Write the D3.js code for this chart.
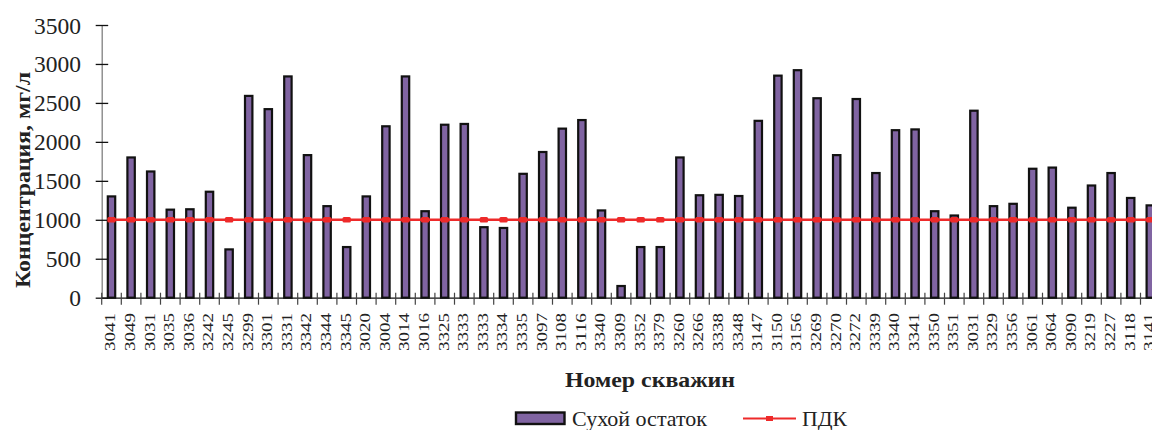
<!DOCTYPE html>
<html><head><meta charset="utf-8">
<script src="https://cdn.jsdelivr.net/npm/d3@7/dist/d3.min.js"></script>
<style>html,body{margin:0;padding:0;background:#fff;overflow:hidden}</style>
</head><body><svg id="c" width="1152" height="430"></svg>
<script>
const wells = ["3041","3049","3031","3035","3036","3242","3245","3299","3301","3331","3342","3344","3345","3020","3004",
"3014","3016","3325","3333","3333","3334","3335","3097","3108","3116","3340","3309","3352","3379","3260","3266","3338","3348","3147","3150",
"3156","3269","3270","3272","3339","3340","3341","3350","3351","3031","3329","3356","3061","3064","3090","3219","3227","3118","3141"];
const dryResidue = [1300,1800,1620,1130,1135,1360,620,2590,2420,2840,1830,1175,650,1300,2200,
2840,1110,2220,2230,905,895,1590,1870,2170,2280,1120,150,650,650,1800,1315,1320,1305,2270,2850,
2920,2560,1830,2550,1600,2150,2160,1110,1055,2400,1175,1205,1655,1670,1155,1440,1600,1280,1185];
const pdk = wells.map(() => 1000);
const yTicks = [0,500,1000,1500,2000,2500,3000,3500];
const seriesNames = ["Сухой остаток","ПДК"];
const yTitle = "Концентрация, мг/л";
const xTitle = "Номер скважин";

const svg = d3.select("#c");
const serif = "'Liberation Serif','Times New Roman',serif";
const x0 = 101.7, step = 19.6;
const x = d3.scaleBand().domain(d3.range(wells.length)).range([x0, x0 + step*wells.length]).paddingInner(0).paddingOuter(0);
const y = d3.scaleLinear().domain([0,3500]).range([297.7, 25]);
const purple = "#8064A2", red = "#EE2A2A";

// y axis
const yAx = svg.append("g").attr("transform",`translate(${x0},0)`)
  .call(d3.axisLeft(y).tickValues(yTicks).tickFormat(d3.format("d")).tickSize(0).tickPadding(20.7));
yAx.select(".domain").attr("stroke","#808080").attr("stroke-width",1.3);
yAx.selectAll("text").attr("font-family",serif).attr("font-size","23.5px").attr("fill","#222").attr("dy","0.34em");
yAx.selectAll(".tick").append("line").attr("x1",-6).attr("x2",6.5).attr("stroke","#111").attr("stroke-width",1.3);

// bars
const bw = 7.4;
svg.append("g").selectAll("rect").data(dryResidue).join("rect")
  .attr("x",(d,i)=>x(i)+x.bandwidth()/2-bw/2)
  .attr("y",d=>y(d))
  .attr("width",bw)
  .attr("height",d=>y(0)-y(d))
  .attr("fill",purple).attr("stroke","#111").attr("stroke-width",2.2);

// x axis
const xAx = svg.append("g").attr("transform",`translate(0,${y(0)})`)
  .call(d3.axisBottom(x).tickFormat(i=>wells[i]).tickSize(0).tickSizeOuter(0));
xAx.select(".domain").attr("stroke","#111").attr("stroke-width",1.3);
xAx.selectAll(".tick text").remove();
xAx.selectAll(".tick line").remove();
const bounds = d3.range(wells.length+1).map(i=>x0+i*step);
xAx.append("g").selectAll("line").data(bounds).join("line")
  .attr("x1",d=>d).attr("x2",d=>d).attr("y1",-5).attr("y2",7)
  .attr("stroke","#444").attr("stroke-width",1.2);
svg.append("g").selectAll("text").data(wells).join("text")
  .attr("transform",(d,i)=>`translate(${x(i)+x.bandwidth()/2+3.8},313) rotate(-90)`)
  .attr("text-anchor","end")
  .attr("font-family",serif).attr("font-size","15.5px").attr("fill","#222")
  .attr("textLength",38).attr("lengthAdjust","spacingAndGlyphs")
  .text(d=>d);

// PDK line
const line = d3.line().x((d,i)=>x(i)+x.bandwidth()/2).y(d=>y(d));
svg.append("path").datum(pdk).attr("d",line).attr("fill","none").attr("stroke",red).attr("stroke-width",2.4);
svg.append("g").selectAll("rect").data(pdk).join("rect")
  .attr("x",(d,i)=>x(i)+x.bandwidth()/2-4.2).attr("y",d=>y(d)-2.8)
  .attr("width",8.4).attr("height",5.6).attr("rx",1.5).attr("fill",red);

// titles
svg.append("text").attr("transform","translate(29.5,180) rotate(-90)")
  .attr("text-anchor","middle").attr("font-family",serif).attr("font-weight","bold")
  .attr("font-size","22px").attr("fill","#222")
  .attr("textLength",216).attr("lengthAdjust","spacingAndGlyphs").text(yTitle);
svg.append("text").attr("x",650).attr("y",387)
  .attr("text-anchor","middle").attr("font-family",serif).attr("font-weight","bold")
  .attr("font-size","22px").attr("fill","#222")
  .attr("textLength",170).attr("lengthAdjust","spacingAndGlyphs").text(xTitle);

// legend
const lg = svg.append("g");
lg.append("rect").attr("x",516).attr("y",412.5).attr("width",48.5).attr("height",11.5)
  .attr("fill",purple).attr("stroke","#111").attr("stroke-width",2.4);
lg.append("text").attr("x",572).attr("y",425.5).attr("font-family",serif).attr("font-size","21px").attr("fill","#222")
  .attr("textLength",135).attr("lengthAdjust","spacingAndGlyphs").text(seriesNames[0]);
lg.append("line").attr("x1",743).attr("x2",796).attr("y1",418.5).attr("y2",418.5).attr("stroke",red).attr("stroke-width",2.2);
lg.append("rect").attr("x",766).attr("y",416).attr("width",7).attr("height",5).attr("fill",red);
lg.append("text").attr("x",802).attr("y",425.5).attr("font-family",serif).attr("font-size","21px").attr("fill","#222")
  .attr("textLength",45).attr("lengthAdjust","spacingAndGlyphs").text(seriesNames[1]);
</script></body></html>
